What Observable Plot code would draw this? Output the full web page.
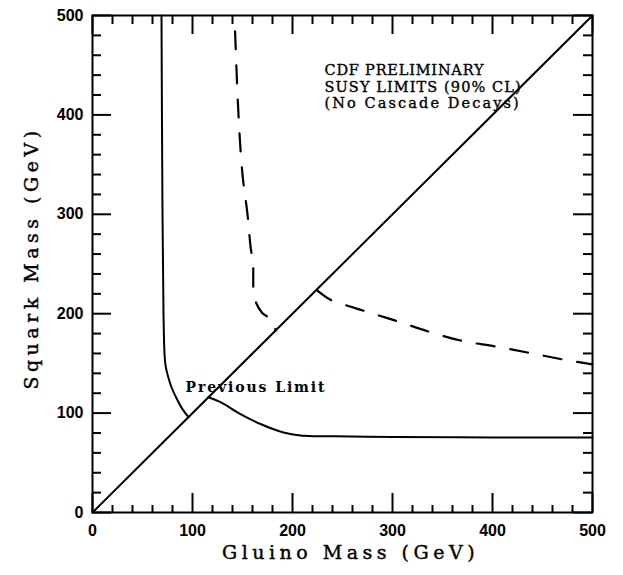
<!DOCTYPE html>
<html>
<head>
<meta charset="utf-8">
<script src="https://cdn.jsdelivr.net/npm/d3@7"></script>
<script src="https://cdn.jsdelivr.net/npm/@observablehq/plot@0.6"></script>
<style>
  body { margin: 0; background: #fff; }
</style>
</head>
<body>
<div id="chart"></div>
<script>
// ---- tick values ----
const majorTicks = [0, 100, 200, 300, 400, 500];
const minorTicks = [20, 40, 60, 80, 120, 140, 160, 180, 220, 240, 260, 280, 320, 340, 360, 380, 420, 440, 460, 480];

// ---- diagonal: squark mass = gluino mass ----
const diagonalGluino = [0, 500];
const diagonalSquark = [0, 500];

// ---- new CDF limit, left branch (solid) ----
const solidLeftGluino = [69, 70, 71, 72, 73, 75.5, 79, 84, 90, 96];
const solidLeftSquark = [500, 300, 200, 160, 148, 137, 126, 115, 104, 96];

// ---- previous limit, right branch (solid) ----
const solidRightGluino = [116, 128, 148, 168, 191, 208, 258, 300, 400, 500];
const solidRightSquark = [116, 111, 99, 89, 80.5, 77.5, 76.5, 76, 75.5, 75.5];

// ---- dashed limit, upper branch ----
const dashUpperGluino = [142, 146, 150, 155, 158, 160.5, 162, 169.5, 178, 181, 183];
const dashUpperSquark = [500, 400, 340, 300, 268, 250, 216, 201, 195, 191, 183];

// ---- dashed limit, lower branch ----
const dashLowerGluino = [224, 238, 255, 271, 303, 336, 368, 403, 435, 470, 500];
const dashLowerSquark = [224, 214, 208, 203, 193, 182, 173, 167, 161, 154, 149];

// ---- texts ----
const noteText = "CDF PRELIMINARY\nSUSY LIMITS (90% CL)\n(No Cascade Decays)";
const noteGluino = [232];
const noteSquark = [407];
const prevText = "Previous Limit";
const prevGluino = [93];
const prevSquark = [121];
const xTitle = "Gluino Mass (GeV)";
const yTitle = "Squark Mass (GeV)";

const zip = (gs, ss) => gs.map((g, i) => ({g, s: ss[i]}));
const diagonal = zip(diagonalGluino, diagonalSquark);
const solidLeft = zip(solidLeftGluino, solidLeftSquark);
const solidRight = zip(solidRightGluino, solidRightSquark);
const dashUpper = zip(dashUpperGluino, dashUpperSquark);
const dashLower = zip(dashLowerGluino, dashLowerSquark);

const W = 623, H = 575;
const mL = 92, mR = 31, mT = 15, mB = 63;
const pw = W - mL - mR, ph = H - mT - mB;
const majLen = 19, minLen = 9, minLenBottom = 7;

const svg = Plot.plot({
  width: W,
  height: H,
  marginLeft: mL,
  marginRight: mR,
  marginTop: mT,
  marginBottom: mB,
  style: {fontFamily: "DejaVu Serif", background: "#fff", color: "#000"},
  x: {domain: [0, 500]},
  y: {domain: [0, 500]},
  marks: [
    // inward ticks
    Plot.tickX(majorTicks, {x: d => d, insetTop: ph - majLen, stroke: "#000", strokeWidth: 2}),
    Plot.tickX(minorTicks, {x: d => d, insetTop: ph - minLenBottom, stroke: "#000", strokeWidth: 2}),
    Plot.tickX(majorTicks, {x: d => d, insetBottom: ph - majLen, stroke: "#000", strokeWidth: 2}),
    Plot.tickX(minorTicks, {x: d => d, insetBottom: ph - minLen, stroke: "#000", strokeWidth: 2}),
    Plot.tickY(majorTicks, {y: d => d, insetRight: pw - majLen, stroke: "#000", strokeWidth: 2}),
    Plot.tickY(minorTicks, {y: d => d, insetRight: pw - minLen, stroke: "#000", strokeWidth: 2}),
    Plot.tickY(majorTicks, {y: d => d, insetLeft: pw - majLen, stroke: "#000", strokeWidth: 2}),
    Plot.tickY(minorTicks, {y: d => d, insetLeft: pw - minLen, stroke: "#000", strokeWidth: 2}),
    Plot.frame({stroke: "#000", strokeWidth: 2}),
    Plot.axisX({ticks: majorTicks, tickSize: 0, tickPadding: 12, label: null,
      fontFamily: "Liberation Sans", fontSize: 16, fontWeight: "bold", tickFormat: d => String(d)}),
    Plot.axisY({ticks: majorTicks, tickSize: 0, tickPadding: 9, label: null,
      fontFamily: "Liberation Sans", fontSize: 16, fontWeight: "bold", tickFormat: d => String(d)}),
    // curves
    Plot.line(diagonal, {x: "g", y: "s", stroke: "#000", strokeWidth: 2}),
    Plot.line(solidLeft, {x: "g", y: "s", stroke: "#000", strokeWidth: 2, curve: "catmull-rom"}),
    Plot.line(solidRight, {x: "g", y: "s", stroke: "#000", strokeWidth: 2, curve: "catmull-rom"}),
    Plot.line(dashUpper, {x: "g", y: "s", stroke: "#000", strokeWidth: 2.2, strokeDasharray: "18,16", strokeDashoffset: 18, curve: "catmull-rom"}),
    Plot.line(dashLower, {x: "g", y: "s", stroke: "#000", strokeWidth: 2.2, strokeDasharray: "18,16", curve: "catmull-rom"}),
    // annotations
    Plot.text([noteText], {x: () => noteGluino[0], y: () => noteSquark[0], text: d => d,
      textAnchor: "start", lineAnchor: "bottom", lineHeight: 1.13, fontSize: 14.5, fill: "#000",
      stroke: "#000", strokeWidth: 0.35, fontFamily: "DejaVu Serif"}),
    Plot.text([prevText], {x: () => prevGluino[0], y: () => prevSquark[0], text: d => d,
      textAnchor: "start", lineAnchor: "bottom", fontSize: 14, fontWeight: "bold", fill: "#000",
      fontFamily: "DejaVu Serif"}),
    // axis titles
    Plot.text([xTitle], {frameAnchor: "bottom", text: d => d, dy: 46, dx: 8, textAnchor: "middle", lineAnchor: "bottom",
      fontSize: 19, fill: "#000", stroke: "#000", strokeWidth: 0.4, fontFamily: "DejaVu Serif"}),
    Plot.text([yTitle], {frameAnchor: "left", text: d => d, rotate: -90, dx: -55, dy: -6, textAnchor: "middle",
      lineAnchor: "bottom", fontSize: 19, fill: "#000", stroke: "#000", strokeWidth: 0.4, fontFamily: "DejaVu Serif"})
  ]
});

// widen letter spacing to match the original typeface
d3.select(svg).selectAll("text").each(function () {
  const t = this.textContent;
  if (t === xTitle || t === yTitle) this.style.letterSpacing = "4.5px";
  else if (t === prevText) this.style.letterSpacing = "1.9px";
});
d3.select(svg).selectAll("tspan").each(function () {
  const t = this.textContent;
  if (t === "CDF PRELIMINARY") this.style.letterSpacing = "0.8px";
  else if (t === "SUSY LIMITS (90% CL)") this.style.letterSpacing = "1.1px";
  else if (t === "(No Cascade Decays)") this.style.letterSpacing = "2.1px";
});

document.getElementById("chart").appendChild(svg);
</script>
</body>
</html>
